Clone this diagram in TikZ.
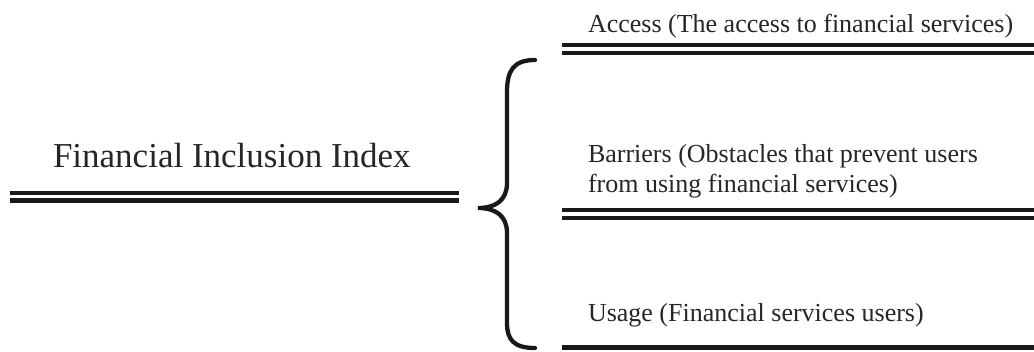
\documentclass[tikz,border=0pt]{standalone}
\usepackage{fontspec}
\setmainfont{Liberation Serif}
\begin{document}
\begin{tikzpicture}[x=1pt,y=-1pt,
  label/.style={anchor=base west,inner sep=0pt,outer sep=0pt,text=black!85,
    font=\fontsize{26}{30}\selectfont,align=left},
  headline/.style={anchor=base west,inner sep=0pt,outer sep=0pt,text=black!85,
    font=\fontsize{35}{40}\selectfont},
  rule/.style={draw=black!90,line width=3.6pt},
  brace/.style={draw=black!90,line width=4.3pt,line cap=round}]
\useasboundingbox (0,0) rectangle (1034,352);

% index title with its double rule
\node[headline] (title) at (53,168) {Financial Inclusion Index};
\coordinate (tl) at (10,200.5);
\coordinate (tr) at (459,200.5);
\draw[rule,line width=4.4pt] (tl) -- (tr);
\draw[rule,line width=4.4pt] ([yshift=7.5pt]tl) -- ([yshift=7.5pt]tr);

% curly brace joining the three components
\coordinate (btop) at (535,60);
\coordinate (btip) at (478,208);
\coordinate (bbot) at (535,348);
\draw[brace] (btop) .. controls (514,60) and (507,70) .. (507,92)
  -- (507,183) .. controls (507,200) and (496,208) .. (btip)
  .. controls (496,208) and (507,216) .. (507,233)
  -- (507,323) .. controls (507,340) and (514,348) .. (bbot);

% components (base anchor of a two-line node sits on its last line)
\node[label] (access) at (588,33) {Access (The access to financial services)};
\coordinate (al) at (562,53.3);
\coordinate (ar) at (1034,53.3);
\draw[rule] (al) -- (ar);
\draw[rule] ([yshift=8pt]al) -- ([yshift=8pt]ar);

\node[label] (barriers) at (588,193) {Barriers (Obstacles that prevent users\\from using financial services)};
\coordinate (bl) at (562,218.3);
\coordinate (br) at (1034,218.3);
\draw[rule] (bl) -- (br);
\draw[rule] ([yshift=8pt]bl) -- ([yshift=8pt]br);

\node[label] (usage) at (588,322) {Usage (Financial services users)};
\coordinate (ul) at (562,347.5);
\coordinate (ur) at (1034,347.5);
\draw[rule,line width=4.5pt] (ul) -- (ur);
\end{tikzpicture}
\end{document}
